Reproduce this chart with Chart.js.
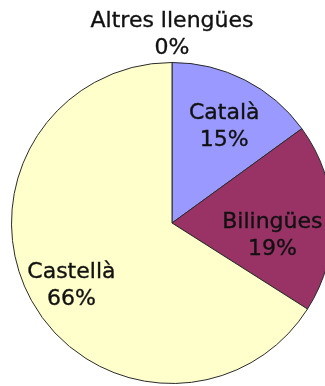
<!DOCTYPE html>
<html>
<head>
<meta charset="utf-8">
<script src="https://cdn.jsdelivr.net/npm/chart.js@4/dist/chart.umd.min.js"></script>
<style>
  html, body { margin: 0; padding: 0; background: #fff; overflow: hidden; }
  #wrap { position: relative; width: 346px; height: 386px; }
</style>
</head>
<body>
<div id="wrap"><canvas id="c" width="346" height="386"></canvas></div>
<script>
// Language of instruction (share of groups, %)
const categories = ['Altres llengües', 'Català', 'Bilingües', 'Castellà'];
const shares = [0, 15, 19, 66];
const sliceColors = ['#CCCCFF', '#9999FF', '#993366', '#FFFFCC'];

// Where each data label sits: fraction of the radius and a small turn (degrees) off the slice middle
const labelPlacement = [
  { r: 1.17, turn: 0 },
  { r: 0.68, turn: 1.6 },
  { r: 0.63, turn: 8.8 },
  { r: 0.74, turn: -3.3 }
];

const sliceLabels = {
  id: 'sliceLabels',
  afterDatasetsDraw(chart, args, opts) {
    const ctx = chart.ctx;
    const meta = chart.getDatasetMeta(0);
    const ds = chart.data.datasets[0];
    ctx.save();
    ctx.font = opts.font;
    ctx.fillStyle = opts.color;
    ctx.strokeStyle = opts.color;
    ctx.lineWidth = 0.35;
    ctx.textAlign = 'center';
    ctx.textBaseline = 'middle';
    meta.data.forEach((arc, i) => {
      const p = arc.getProps(['x', 'y', 'startAngle', 'endAngle', 'outerRadius'], true);
      const place = opts.placement[i];
      const a = (p.startAngle + p.endAngle) / 2 + place.turn * Math.PI / 180;
      const cx = p.x + Math.cos(a) * p.outerRadius * place.r;
      const cy = p.y + Math.sin(a) * p.outerRadius * place.r;
      const lines = [chart.data.labels[i], ds.data[i] + '%'];
      const lh = opts.lineHeight;
      lines.forEach((t, k) => {
        const ty = cy + (k - (lines.length - 1) / 2) * lh;
        ctx.fillText(t, cx, ty);
        ctx.strokeText(t, cx, ty);
      });
    });
    ctx.restore();
  }
};

new Chart(document.getElementById('c'), {
  type: 'pie',
  data: {
    labels: categories,
    datasets: [{
      data: shares,
      backgroundColor: sliceColors,
      borderColor: '#2a2a2a',
      borderWidth: 1
    }]
  },
  options: {
    responsive: false,
    animation: false,
    layout: { padding: { top: 62, bottom: 2, left: 11, right: 13 } },
    plugins: {
      legend: { display: false },
      tooltip: { enabled: false },
      sliceLabels: {
        font: '22px "DejaVu Sans", Verdana, sans-serif',
        color: '#111',
        lineHeight: 27,
        placement: labelPlacement
      }
    }
  },
  plugins: [sliceLabels]
});
</script>
</body>
</html>
